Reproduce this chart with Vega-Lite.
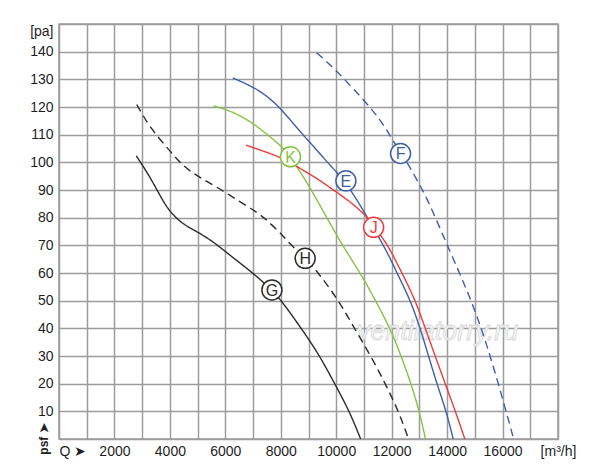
{
  "$schema": "https://vega.github.io/schema/vega-lite/v6.json",
  "description": "Fan curves, static pressure against air flow",
  "width": 499,
  "height": 415,
  "autosize": "none",
  "padding": {"left": 59, "top": 24, "right": 42, "bottom": 36},
  "background": "white",
  "datasets": {
    "curves": [
      {"curve": "G", "q": 2790, "p": 102.3},
      {"curve": "G", "q": 3280, "p": 94.8},
      {"curve": "G", "q": 3700, "p": 86.9},
      {"curve": "G", "q": 4000, "p": 82.1},
      {"curve": "G", "q": 4430, "p": 77.9},
      {"curve": "G", "q": 5000, "p": 74.8},
      {"curve": "G", "q": 5570, "p": 71.3},
      {"curve": "G", "q": 6050, "p": 67.3},
      {"curve": "G", "q": 7000, "p": 60},
      {"curve": "G", "q": 7680, "p": 53.9},
      {"curve": "G", "q": 8100, "p": 49},
      {"curve": "G", "q": 8700, "p": 40.5},
      {"curve": "G", "q": 8940, "p": 37},
      {"curve": "G", "q": 9420, "p": 29.8},
      {"curve": "G", "q": 10030, "p": 18.4},
      {"curve": "G", "q": 10500, "p": 9.5},
      {"curve": "G", "q": 10880, "p": 0},
      {"curve": "H", "q": 2805, "p": 120.9},
      {"curve": "H", "q": 3265, "p": 112.7},
      {"curve": "H", "q": 4000, "p": 104.1},
      {"curve": "H", "q": 4490, "p": 98.5},
      {"curve": "H", "q": 5020, "p": 94.8},
      {"curve": "H", "q": 5680, "p": 91.2},
      {"curve": "H", "q": 6520, "p": 85.8},
      {"curve": "H", "q": 7200, "p": 81.6},
      {"curve": "H", "q": 7500, "p": 79},
      {"curve": "H", "q": 8000, "p": 74.4},
      {"curve": "H", "q": 8300, "p": 70.8},
      {"curve": "H", "q": 8880, "p": 65.3},
      {"curve": "H", "q": 9180, "p": 62.3},
      {"curve": "H", "q": 10030, "p": 51},
      {"curve": "H", "q": 10600, "p": 41},
      {"curve": "H", "q": 11250, "p": 30},
      {"curve": "H", "q": 11770, "p": 20},
      {"curve": "H", "q": 12250, "p": 10},
      {"curve": "H", "q": 12610, "p": 0},
      {"curve": "K", "q": 5570, "p": 120.4},
      {"curve": "K", "q": 6290, "p": 118.3},
      {"curve": "K", "q": 7010, "p": 114.1},
      {"curve": "K", "q": 7620, "p": 109.2},
      {"curve": "K", "q": 8000, "p": 106},
      {"curve": "K", "q": 8340, "p": 102},
      {"curve": "K", "q": 8700, "p": 96.6},
      {"curve": "K", "q": 9180, "p": 88.8},
      {"curve": "K", "q": 10150, "p": 71},
      {"curve": "K", "q": 10870, "p": 60},
      {"curve": "K", "q": 11230, "p": 53.5},
      {"curve": "K", "q": 11950, "p": 40},
      {"curve": "K", "q": 12340, "p": 30},
      {"curve": "K", "q": 12700, "p": 20},
      {"curve": "K", "q": 13000, "p": 10},
      {"curve": "K", "q": 13220, "p": 0},
      {"curve": "E", "q": 6270, "p": 130.5},
      {"curve": "E", "q": 7000, "p": 127.3},
      {"curve": "E", "q": 7500, "p": 124},
      {"curve": "E", "q": 8000, "p": 119.5},
      {"curve": "E", "q": 8700, "p": 111},
      {"curve": "E", "q": 9300, "p": 104.5},
      {"curve": "E", "q": 9720, "p": 99.5},
      {"curve": "E", "q": 10350, "p": 93},
      {"curve": "E", "q": 11110, "p": 80.4},
      {"curve": "E", "q": 11590, "p": 72},
      {"curve": "E", "q": 11950, "p": 65.3},
      {"curve": "E", "q": 12190, "p": 60},
      {"curve": "E", "q": 12670, "p": 50.3},
      {"curve": "E", "q": 13030, "p": 40},
      {"curve": "E", "q": 13330, "p": 30},
      {"curve": "E", "q": 13630, "p": 20},
      {"curve": "E", "q": 13970, "p": 10},
      {"curve": "E", "q": 14220, "p": 0},
      {"curve": "J", "q": 6750, "p": 106.2},
      {"curve": "J", "q": 7500, "p": 103.6},
      {"curve": "J", "q": 8000, "p": 101.8},
      {"curve": "J", "q": 8700, "p": 97.8},
      {"curve": "J", "q": 9400, "p": 93.6},
      {"curve": "J", "q": 9780, "p": 90.8},
      {"curve": "J", "q": 10510, "p": 85.8},
      {"curve": "J", "q": 11110, "p": 80.4},
      {"curve": "J", "q": 11350, "p": 76.8},
      {"curve": "J", "q": 11770, "p": 71.5},
      {"curve": "J", "q": 12070, "p": 66},
      {"curve": "J", "q": 12370, "p": 60},
      {"curve": "J", "q": 12850, "p": 50.3},
      {"curve": "J", "q": 13210, "p": 40},
      {"curve": "J", "q": 13570, "p": 30},
      {"curve": "J", "q": 13930, "p": 20},
      {"curve": "J", "q": 14300, "p": 10},
      {"curve": "J", "q": 14640, "p": 0},
      {"curve": "F", "q": 9300, "p": 139.6},
      {"curve": "F", "q": 10000, "p": 133.3},
      {"curve": "F", "q": 11000, "p": 122.5},
      {"curve": "F", "q": 11600, "p": 115.3},
      {"curve": "F", "q": 11950, "p": 109.5},
      {"curve": "F", "q": 12320, "p": 103.5},
      {"curve": "F", "q": 12650, "p": 98.5},
      {"curve": "F", "q": 13050, "p": 91},
      {"curve": "F", "q": 13300, "p": 86.5},
      {"curve": "F", "q": 13900, "p": 72.5},
      {"curve": "F", "q": 14250, "p": 64.5},
      {"curve": "F", "q": 14900, "p": 49.5},
      {"curve": "F", "q": 15440, "p": 34},
      {"curve": "F", "q": 15950, "p": 16.5},
      {"curve": "F", "q": 16400, "p": 0}
    ],
    "labels": [
      {"curve": "G", "q": 7680, "p": 53.9},
      {"curve": "H", "q": 8880, "p": 65.3},
      {"curve": "K", "q": 8350, "p": 102},
      {"curve": "E", "q": 10350, "p": 93.3},
      {"curve": "F", "q": 12320, "p": 103.2},
      {"curve": "J", "q": 11350, "p": 76.5}
    ],
    "notes": [
      {"kind": "mark", "q": 13650, "p": 38.5, "text": "ventilatorry.ru"},
      {"kind": "unit", "q": 0, "p": 0, "text": "psf ➤"}
    ]
  },
  "encoding": {
    "x": {
      "field": "q",
      "type": "quantitative",
      "scale": {"domain": [0, 18000], "nice": false},
      "axis": {
        "title": null,
        "values": [0, 1000, 2000, 3000, 4000, 5000, 6000, 7000, 8000, 9000, 10000, 11000, 12000, 13000, 14000, 15000, 16000, 17000, 18000],
        "labelExpr": "datum.value == 0 ? 'Q ➤' : datum.value == 18000 ? '[m³/h]' : datum.value % 2000 == 0 ? format(datum.value, 'd') : ''",
        "labelAlign": {"condition": {"test": "datum.value == 0", "value": "left"}, "value": "center"},
        "labelFlush": false,
        "labelOverlap": false,
        "labelBound": false,
        "labelPadding": 5
      }
    },
    "y": {
      "field": "p",
      "type": "quantitative",
      "scale": {"domain": [0, 150], "nice": false},
      "axis": {
        "title": null,
        "values": [0, 10, 20, 30, 40, 50, 60, 70, 80, 90, 100, 110, 120, 130, 140, 150],
        "labelExpr": "datum.value == 150 ? '[pa]' : datum.value == 0 ? '' : datum.label",
        "labelBaseline": {"condition": {"test": "datum.value == 150", "value": "top"}, "value": "middle"},
        "labelOverlap": false,
        "labelPadding": 6
      }
    }
  },
  "layer": [
    {
      "data": {"name": "notes"},
      "transform": [{"filter": "datum.kind == 'mark'"}],
      "mark": {
        "type": "text",
        "font": "Liberation Sans",
        "fontSize": 27,
        "fontStyle": "italic",
        "fill": "#f8f8f8",
        "stroke": "#d6d6d6",
        "strokeWidth": 0.8,
        "align": "center",
        "baseline": "middle"
      },
      "encoding": {"text": {"field": "text"}}
    },
    {
      "data": {"name": "curves"},
      "mark": {"type": "line", "interpolate": "basis", "strokeWidth": 1.4},
      "encoding": {
        "color": {
          "field": "curve",
          "type": "nominal",
          "scale": {"domain": ["E", "F", "G", "H", "J", "K"], "range": ["#3f5ea9", "#3f5ea9", "#2b2b2b", "#2b2b2b", "#ef3b3b", "#86c443"]},
          "legend": null
        },
        "strokeDash": {
          "field": "curve",
          "type": "nominal",
          "scale": {"domain": ["E", "F", "G", "H", "J", "K"], "range": [[1, 0], [8, 5], [1, 0], [8, 5], [1, 0], [1, 0]]},
          "legend": null
        }
      }
    },
    {
      "data": {"name": "labels"},
      "mark": {"type": "point", "shape": "circle", "size": 400, "fill": "white", "fillOpacity": 1, "opacity": 1, "strokeWidth": 1.5},
      "encoding": {
        "stroke": {
          "field": "curve",
          "type": "nominal",
          "scale": {"domain": ["E", "F", "G", "H", "J", "K"], "range": ["#3f5ea9", "#3f5ea9", "#2b2b2b", "#2b2b2b", "#ef3b3b", "#86c443"]},
          "legend": null
        }
      }
    },
    {
      "data": {"name": "labels"},
      "mark": {"type": "text", "font": "Liberation Sans", "fontSize": 16, "align": "center", "baseline": "middle", "dy": 1},
      "encoding": {
        "text": {"field": "curve"},
        "color": {"field": "curve", "type": "nominal", "legend": null}
      }
    },
    {
      "data": {"name": "notes"},
      "transform": [{"filter": "datum.kind == 'unit'"}],
      "mark": {"type": "text", "font": "Liberation Sans", "fontSize": 12, "fontWeight": "bold", "angle": 270, "align": "center", "baseline": "middle", "dy": -15, "color": "#222222"},
      "encoding": {"text": {"field": "text"}}
    }
  ],
  "config": {
    "font": "Liberation Sans",
    "view": {"stroke": "#9c9c9c", "strokeWidth": 1.5},
    "axis": {
      "grid": true,
      "gridColor": "#9c9c9c",
      "gridWidth": 1.5,
      "gridOpacity": 1,
      "ticks": false,
      "domain": false,
      "labelFont": "Liberation Sans",
      "labelFontSize": 14,
      "labelColor": "#1e1e1e"
    }
  }
}
